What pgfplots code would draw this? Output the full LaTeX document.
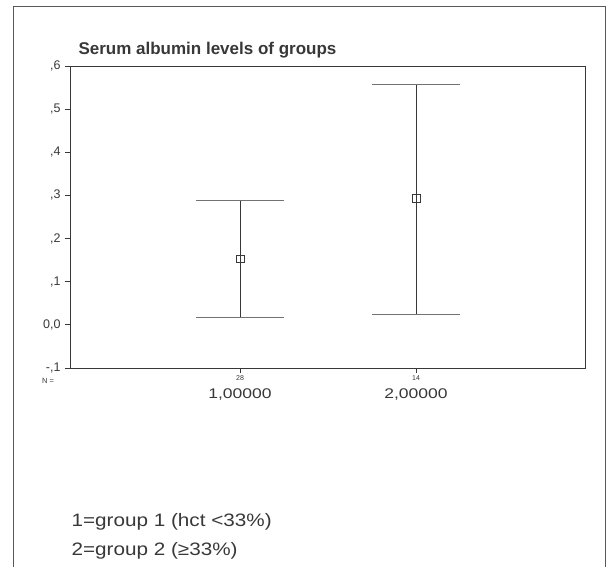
\documentclass[border=0pt]{standalone}
\usepackage{pgfplots}
\pgfplotsset{compat=1.18}
\usepackage{fontspec}
\setmainfont{Liberation Sans}
\definecolor{ink}{gray}{0.22}
\begin{document}
\begin{tikzpicture}
\path (-70pt,-199pt) rectangle (543pt,368pt);
\draw[black!65, line width=0.9pt] (-57pt,-199pt) -- (-57pt,362pt) -- (535pt,362pt) -- (535pt,-199pt);
\begin{axis}[at={(0pt,0pt)}, anchor=south west, scale only axis,
  width=515pt, height=302pt,
  xmin=0.03, xmax=2.96, ymin=-0.1, ymax=0.6,
  xtick={1,2}, xticklabels={},
  ytick={-0.1,0,0.1,0.2,0.3,0.4,0.5,0.6},
  yticklabels={{-,1},{0,0},{,1},{,2},{,3},{,4},{,5},{,6}},
  tick align=outside, tick pos=left, major tick length=5pt,
  tick style={ink, line width=0.8pt},
  yticklabel style={font=\fontsize{12.5}{14}\selectfont, text=ink, xshift=-1pt},
  axis line style={ink, line width=0.9pt},
  clip=false]
\addplot[ink, only marks, mark=square, mark size=3.8pt, mark options={line width=0.7pt, solid},
  error bars/.cd, y dir=both, y explicit,
  error bar style={ink, line width=0.8pt},
  error mark options={rotate=90, mark size=44pt, black!55, line width=0.8pt}]
  table[x=x, y=y, y error plus=ep, y error minus=em] {
x y ep em
1 0.153 0.135 0.136
2 0.293 0.264 0.268
};
\end{axis}
\node[anchor=base west, font=\bfseries\fontsize{17}{20}\selectfont, text=ink] at (5pt,313pt) {Serum albumin levels of groups};
\node[font=\fontsize{7.5}{8}\selectfont, text=ink] at (-22pt,-13pt) {N =};
\node[font=\fontsize{7}{8}\selectfont, text=ink] at (170pt,-10pt) {28};
\node[font=\fontsize{7}{8}\selectfont, text=ink] at (346pt,-10pt) {14};
\node[font=\fontsize{14}{16}\selectfont, text=ink] at (170pt,-27pt) {\scalebox{1.25}[1]{1,00000}};
\node[font=\fontsize{14}{16}\selectfont, text=ink] at (346pt,-27pt) {\scalebox{1.25}[1]{2,00000}};
\node[anchor=base west, font=\fontsize{18}{20}\selectfont, text=ink] at (-2pt,-158pt) {\scalebox{1.15}[1]{1=group 1 (hct <33\%)}};
\node[anchor=base west, font=\fontsize{18}{20}\selectfont, text=ink] at (-2pt,-187pt) {\scalebox{1.15}[1]{2=group 2 (≥33\%)}};
\end{tikzpicture}
\end{document}
